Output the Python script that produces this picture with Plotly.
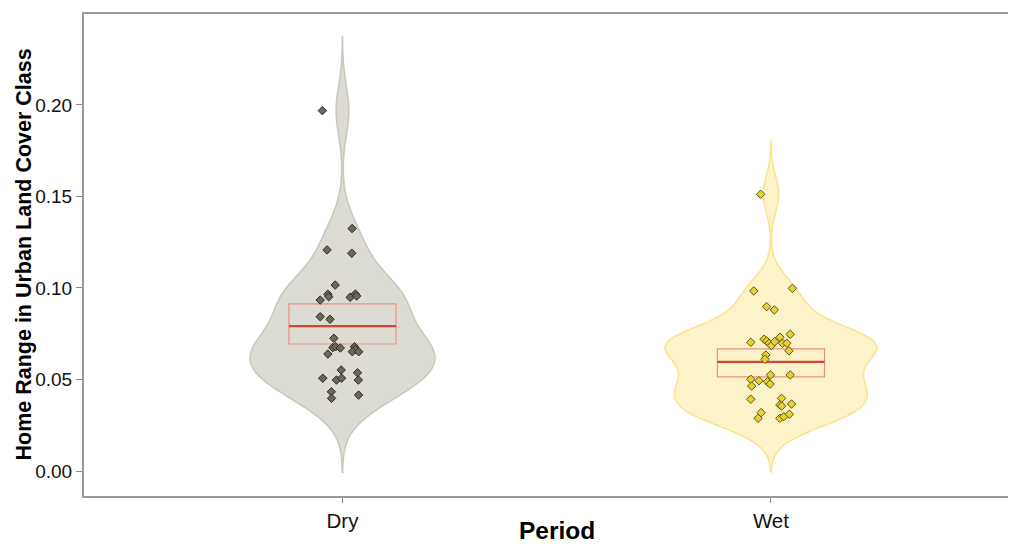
import plotly.graph_objects as go

categories = ["Dry", "Wet"]
cat_pos = [1, 2]

dry_values = [0.1969, 0.1325, 0.1208, 0.1190, 0.1016, 0.0966, 0.0952, 0.0934, 0.0949,
              0.0967, 0.0956, 0.0843, 0.0829, 0.0725, 0.0674, 0.0679, 0.0672, 0.0639,
              0.0679, 0.0665, 0.0652, 0.0652, 0.0552, 0.0537, 0.0507, 0.0497, 0.0507,
              0.0497, 0.0433, 0.0397, 0.0415]
dry_jitter = [-0.047, 0.0225, -0.036, 0.0216, -0.017, -0.034, -0.032, -0.052, 0.018,
              0.030, 0.033, -0.052, -0.029, -0.020, -0.0225, -0.016, -0.005, -0.034,
              0.028, 0.030, 0.023, 0.038, -0.003, 0.035, -0.046, -0.014, -0.002,
              0.037, -0.026, -0.0255, 0.0376]

wet_values = [0.1512, 0.0984, 0.0998, 0.0898, 0.0880, 0.0703, 0.0720, 0.0710, 0.0698,
              0.0685, 0.0707, 0.0731, 0.0698, 0.0698, 0.0747, 0.0657, 0.0634, 0.0610,
              0.0525, 0.0525, 0.0501, 0.0493, 0.0464, 0.0488, 0.0475, 0.0392, 0.0397,
              0.0361, 0.0355, 0.0366, 0.0319, 0.0288, 0.0288, 0.0297, 0.0310]
wet_jitter = [-0.024, -0.040, 0.050, -0.010, 0.008, -0.047, -0.016, -0.010, -0.004,
              0.001, 0.009, 0.021, 0.027, 0.037, 0.045, 0.042, -0.012, -0.014,
              -0.001, 0.045, -0.047, -0.028, -0.045, -0.008, -0.002, -0.047, 0.025,
              0.021, 0.025, 0.048, -0.023, -0.030, 0.021, 0.030, 0.043]

# summary crossbar (lower, middle, upper)
box_lower = [0.0694, 0.0514]
box_middle = [0.0792, 0.0596]
box_upper = [0.0913, 0.0667]

bandwidths = [0.0135, 0.0098]
violin_widths = [0.432, 0.495]

y_ticks = [0.00, 0.05, 0.10, 0.15, 0.20]

x_title = "Period"
y_title = "Home Range in Urban Land Cover Class"

violin_fill = ["rgba(221,220,212,1)", "rgba(253,243,200,1)"]
violin_line = ["#c9c7b9", "#f8e48e"]
point_fill = ["#6b675b", "#e8d133"]
point_line = ["#2b2920", "#5e5418"]

font_family = "Liberation Sans, Arial, sans-serif"

fig = go.Figure()

series = [dry_values, wet_values]
jitters = [dry_jitter, wet_jitter]

for i, name in enumerate(categories):
    vals = series[i]
    bw = bandwidths[i]
    fig.add_trace(go.Violin(
        x=[cat_pos[i]] * len(vals), y=vals, name=name,
        bandwidth=bw, spanmode="manual",
        span=[min(vals) - 3 * bw, max(vals) + 3 * bw],
        width=violin_widths[i], scalemode="width",
        fillcolor=violin_fill[i], line=dict(color=violin_line[i], width=1.5),
        points=False, box_visible=False, meanline_visible=False,
        showlegend=False, hoverinfo="skip",
    ))

for i, name in enumerate(categories):
    fig.add_trace(go.Box(
        x=[cat_pos[i]], q1=[box_lower[i]], median=[box_middle[i]], q3=[box_upper[i]],
        lowerfence=[box_lower[i]], upperfence=[box_upper[i]],
        width=0.25, fillcolor="rgba(0,0,0,0)",
        line=dict(color="#ec8f82", width=1.2), showlegend=False, hoverinfo="skip",
        boxpoints=False, whiskerwidth=0,
    ))
    fig.add_trace(go.Box(
        x=[cat_pos[i]], q1=[box_middle[i]], median=[box_middle[i]], q3=[box_middle[i]],
        lowerfence=[box_middle[i]], upperfence=[box_middle[i]],
        width=0.25, fillcolor="rgba(0,0,0,0)",
        line=dict(color="#d9452e", width=2.2), showlegend=False, hoverinfo="skip",
        boxpoints=False, whiskerwidth=0,
    ))

for i, name in enumerate(categories):
    vals = series[i]
    fig.add_trace(go.Scatter(
        x=[cat_pos[i] + j for j in jitters[i]], y=vals, mode="markers",
        marker=dict(symbol="diamond", size=6.5, color=point_fill[i],
                    line=dict(color=point_line[i], width=1)),
        showlegend=False, hoverinfo="skip",
    ))

# page has an 8px body margin: figure is offset by (8, 8) in the window
fig.update_layout(
    width=1008, height=538,
    margin=dict(l=76, r=0, t=6, b=50, autoexpand=False),
    paper_bgcolor="white", plot_bgcolor="white",
    violinmode="overlay", boxmode="overlay",
    font=dict(family=font_family, color="#111111"),
    annotations=[
        dict(text="<b>" + x_title + "</b>", x=1.5, xref="x", y=-49.5 / 482, yref="paper",
             yanchor="bottom", xanchor="center", showarrow=False,
             font=dict(size=24.5, color="#000000", family=font_family)),
        dict(text="<b>" + y_title + "</b>", x=(23.5 - 84) / 932, xref="paper", y=0.5, yref="paper",
             xanchor="center", yanchor="middle", textangle=-90, showarrow=False,
             font=dict(size=21.5, color="#000000", family=font_family)),
    ],
)

fig.update_xaxes(
    range=[1 - (342.5 - 84) / 428.5, 2.572],
    tickvals=cat_pos, ticktext=categories,
    ticks="outside", ticklen=5, tickcolor="#888888", tickwidth=1,
    tickfont=dict(size=20.5, color="#111111"),
    showline=True, linecolor="#999999", linewidth=2, mirror=True,
    showgrid=False, zeroline=False, automargin=False,
)

fig.update_yaxes(
    range=[-0.01366, 0.2497],
    tickvals=y_ticks, tickformat=".2f",
    ticks="outside", ticklen=6, tickcolor="#888888", tickwidth=1,
    tickfont=dict(size=19, color="#111111"),
    showline=True, linecolor="#999999", linewidth=2, mirror=True,
    showgrid=False, zeroline=False, automargin=False,
)

fig.write_html("out.html")
